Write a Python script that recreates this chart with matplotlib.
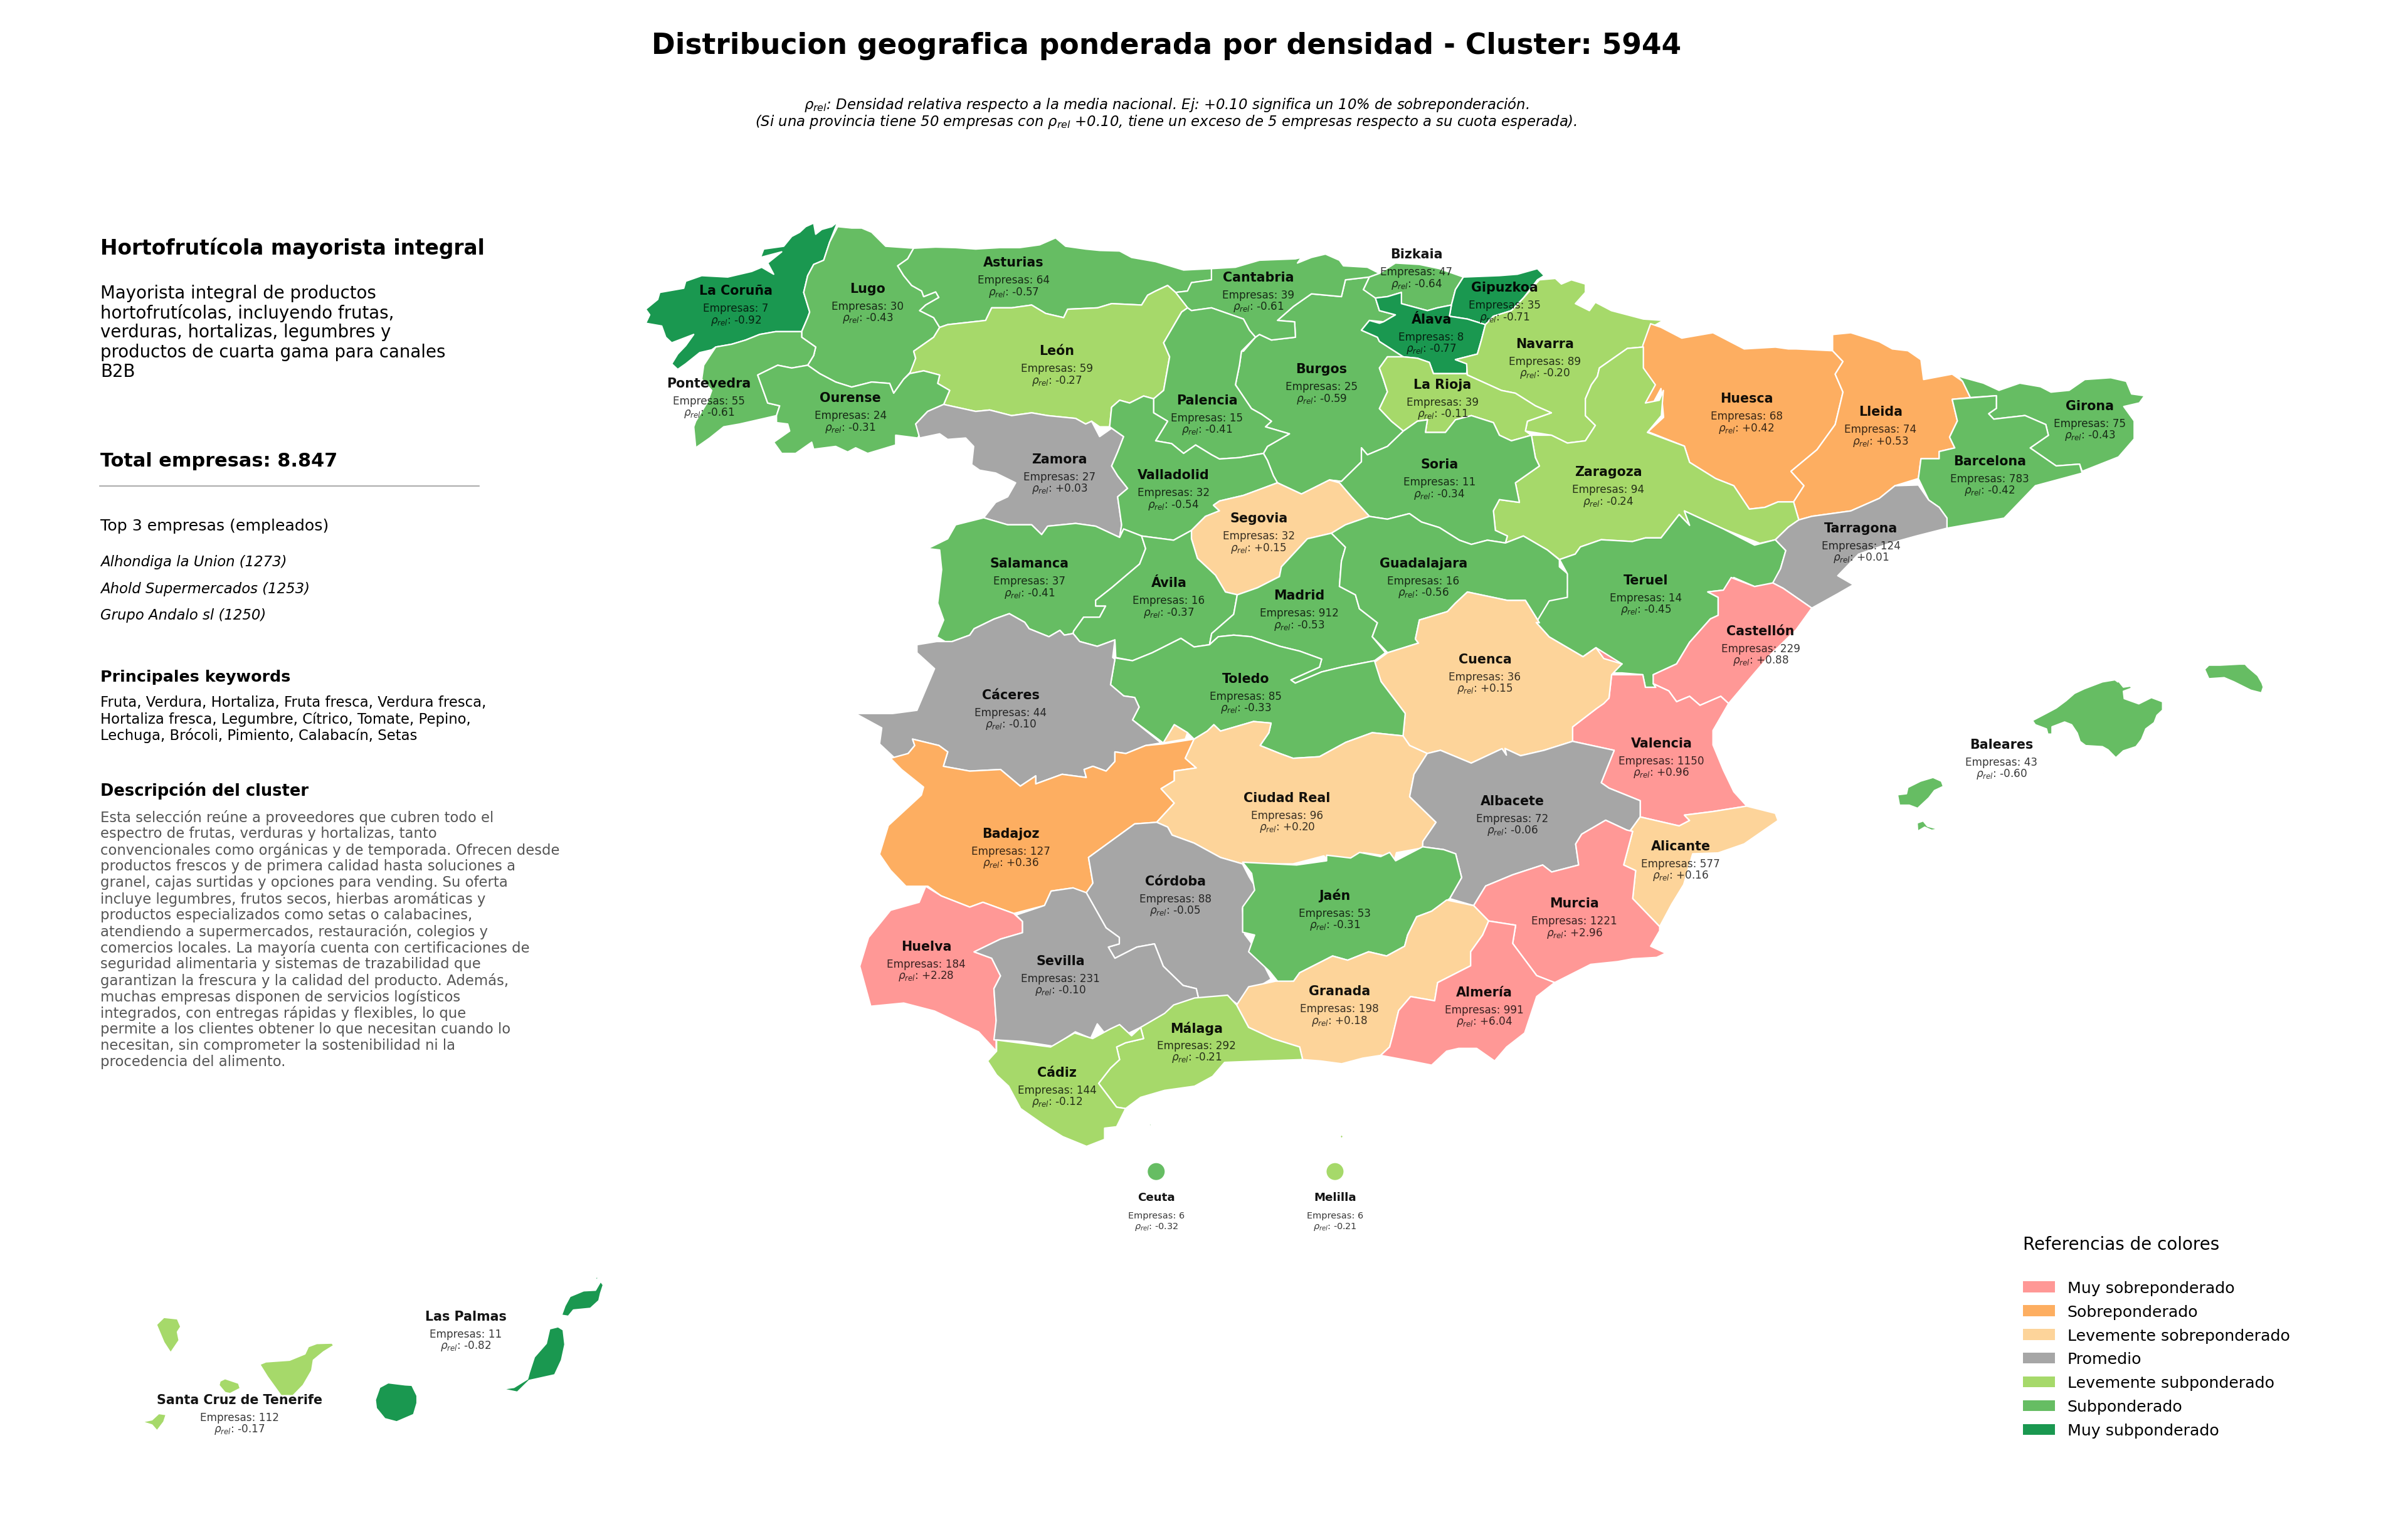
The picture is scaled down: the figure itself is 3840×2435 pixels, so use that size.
import matplotlib
matplotlib.use("Agg")
import matplotlib.pyplot as plt
from matplotlib.patches import Polygon, Patch, Circle

# ---------- outline digitising frames (origin + scale of each traced crop) ----------
def frame(ox, oy, fx, fy):
    return lambda pts: [(ox + x / fx, oy + y / fy) for x, y in pts]
A = frame(950, 320, 1.568, 2.24)
B = frame(1900, 320, 1.568, 2.24)
C = frame(2400, 500, 1.206, 1.742)
D = frame(1350, 950, 1.4255, 1.96)
E = frame(1350, 1300, 1.045, 2.24)
F = frame(180, 2000, 1.845, 3.0)
G = frame(3000, 1000, 2.24, 3.0)

# ---------- data ----------
PROVINCIAS = ["La Coruña", "Lugo", "Asturias", "Cantabria", "Bizkaia", "Gipuzkoa", "Álava", "Navarra", "León",
              "Pontevedra", "Ourense", "Zamora", "Palencia", "Burgos", "La Rioja", "Huesca", "Lleida", "Girona",
              "Barcelona", "Zaragoza", "Soria", "Valladolid", "Segovia", "Salamanca", "Ávila", "Madrid",
              "Guadalajara", "Teruel", "Tarragona", "Castellón", "Valencia", "Baleares", "Cuenca", "Toledo",
              "Cáceres", "Badajoz", "Ciudad Real", "Albacete", "Alicante", "Murcia", "Córdoba", "Jaén", "Huelva",
              "Sevilla", "Granada", "Almería", "Málaga", "Cádiz", "Ceuta", "Melilla", "Las Palmas",
              "Santa Cruz de Tenerife"]
EMPRESAS = [7, 30, 64, 39, 47, 35, 8, 89, 59, 55, 24, 27, 15, 25, 39, 68, 74, 75, 783, 94, 11, 32, 32, 37, 16, 912,
            16, 14, 124, 229, 1150, 43, 36, 85, 44, 127, 96, 72, 577, 1221, 88, 53, 184, 231, 198, 991, 292, 144,
            6, 6, 11, 112]
RHO = [-0.92, -0.43, -0.57, -0.61, -0.64, -0.71, -0.77, -0.20, -0.27, -0.61, -0.31, 0.03, -0.41, -0.59, -0.11, 0.42,
       0.53, -0.43, -0.42, -0.24, -0.34, -0.54, 0.15, -0.41, -0.37, -0.53, -0.56, -0.45, 0.01, 0.88, 0.96, -0.60,
       0.15, -0.33, -0.10, 0.36, 0.20, -0.06, 0.16, 2.96, -0.05, -0.31, 2.28, -0.10, 0.18, 6.04, -0.21, -0.12,
       -0.32, -0.21, -0.82, -0.17]

CLASES = ["Muy sobreponderado", "Sobreponderado", "Levemente sobreponderado", "Promedio",
          "Levemente subponderado", "Subponderado", "Muy subponderado"]
COLORES = ["#FF9896", "#FDAE61", "#FDD49A", "#A6A6A6", "#A6D96A", "#66BD63", "#1A9850"]

TITULO = "Distribucion geografica ponderada por densidad - Cluster: 5944"
SUB1 = r"$\rho_{rel}$: Densidad relativa respecto a la media nacional. Ej: +0.10 significa un 10% de sobreponderación."
SUB2 = r"(Si una provincia tiene 50 empresas con $\rho_{rel}$ +0.10, tiene un exceso de 5 empresas respecto a su cuota esperada)."
CLUSTER = "Hortofrutícola mayorista integral"
RESUMEN = ["Mayorista integral de productos", "hortofrutícolas, incluyendo frutas,", "verduras, hortalizas, legumbres y",
           "productos de cuarta gama para canales", "B2B"]
TOTAL = "Total empresas: 8.847"
TOP3 = ["Alhondiga la Union (1273)", "Ahold Supermercados (1253)", "Grupo Andalo sl (1250)"]
KEYWORDS = ["Fruta, Verdura, Hortaliza, Fruta fresca, Verdura fresca,",
            "Hortaliza fresca, Legumbre, Cítrico, Tomate, Pepino,",
            "Lechuga, Brócoli, Pimiento, Calabacín, Setas"]
DESCRIPCION = ["Esta selección reúne a proveedores que cubren todo el",
               "espectro de frutas, verduras y hortalizas, tanto",
               "convencionales como orgánicas y de temporada. Ofrecen desde",
               "productos frescos y de primera calidad hasta soluciones a",
               "granel, cajas surtidas y opciones para vending. Su oferta",
               "incluye legumbres, frutos secos, hierbas aromáticas y",
               "productos especializados como setas o calabacines,",
               "atendiendo a supermercados, restauración, colegios y",
               "comercios locales. La mayoría cuenta con certificaciones de",
               "seguridad alimentaria y sistemas de trazabilidad que",
               "garantizan la frescura y la calidad del producto. Además,",
               "muchas empresas disponen de servicios logísticos",
               "integrados, con entregas rápidas y flexibles, lo que",
               "permite a los clientes obtener lo que necesitan cuando lo",
               "necesitan, sin comprometer la sostenibilidad ni la",
               "procedencia del alimento."]

SHAPES = {
"La Coruña": [A([(605,78),(590,95),(565,105),(550,122),(545,82),(525,95),(510,115),(490,130),(470,165),(420,175),(412,205),(465,185),(430,225),(445,265),(415,240),(390,255),(330,275),(265,270),(225,290),(220,315),(160,330),(155,355),(125,390),(135,410),(125,440),(165,450),(175,490),(190,510),(245,480),(225,520),(205,550),(190,585),(205,605),(225,585),(260,545),(290,535),(300,525),(340,515),(375,500),(410,480),(450,470),(515,470),(530,420),(535,400),(520,330),(530,270),(545,230),(570,215),(585,150)])],
"Lugo": [A([(605,95),(640,100),(665,100),(690,115),(725,165),(795,172),(780,210),(755,235),(770,270),(790,305),(815,325),(820,345),(850,328),(858,348),(825,375),(810,395),(845,420),(860,455),(845,490),(820,515),(795,540),(800,565),(790,610),(770,640),(745,690),(735,655),(690,650),(640,668),(600,650),(560,620),(530,590),(545,555),(550,525),(515,490),(515,470),(530,420),(535,400),(520,330),(530,270),(545,230),(570,215),(585,150)])],
"Asturias": [A([(795,172),(850,168),(900,170),(950,175),(1010,170),(1060,170),(1110,160),(1150,135),(1175,165),(1225,175),(1260,180),(1310,182),(1340,205),(1400,220),(1470,250),(1540,245),(1540,285),(1490,295),(1480,325),(1450,330),(1430,305),(1400,325),(1380,340),(1365,375),(1290,370),(1255,385),(1180,390),(1170,420),(1125,405),(1090,375),(1040,385),(990,385),(975,430),(880,445),(860,455),(845,420),(810,395),(825,375),(858,348),(850,328),(820,345),(815,325),(790,305),(770,270),(755,235),(780,210)])],
"Cantabria": [B([(50,245),(110,240),(170,215),(260,210),(275,205),(265,225),(300,205),(335,193),(370,215),(380,235),(440,240),(470,262),(445,275),(385,285),(375,345),(300,335),(255,380),(215,430),(258,435),(260,490),(200,500),(170,480),(160,490),(145,465),(130,425),(90,405),(50,385),(0,395),(-10,385),(-40,330),(-10,325),(0,295),(50,285)])],
"Bizkaia": [B([(445,275),(470,262),(510,225),(570,230),(620,245),(680,275),(660,320),(650,375),(615,385),(590,395),(525,370),(525,330),(490,345),(460,350),(430,320)])],
"Gipuzkoa": [B([(680,275),(770,270),(815,265),(865,245),(882,270),(865,285),(830,350),(800,395),(755,415),(735,445),(690,425),(645,415),(650,375),(660,320)])],
"Navarra": [B([(870,285),(910,280),(925,300),(950,285),(985,300),(985,330),(960,370),(995,395),(1010,365),(1050,395),(1130,425),(1180,430),(1155,450),(1145,510),(1130,525),(1090,530),(1055,565),(1020,600),(1015,630),(1000,660),(985,710),(985,770),(1010,805),(985,860),(940,868),(900,840),(835,825),(840,790),(900,760),(860,735),(810,690),(775,680),(690,625),(688,585),(660,570),(715,550),(725,500),(735,445),(755,415),(800,395),(830,350)])],
"León": [A([(1430,305),(1450,330),(1480,385),(1465,400),(1420,510),(1435,560),(1420,680),(1395,710),(1370,700),(1335,725),(1310,715),(1290,740),(1285,810),(1260,810),(1240,790),(1225,800),(1200,780),(1130,770),(1090,760),(1040,770),(985,750),(950,755),(870,730),(885,680),(855,655),(860,625),(820,610),(785,620),(800,565),(795,540),(820,515),(845,490),(860,455),(880,445),(975,430),(990,385),(1040,385),(1090,375),(1125,405),(1170,420),(1180,390),(1255,385),(1290,370),(1365,375),(1380,340),(1400,325)])],
"Pontevedra": [A([(515,470),(450,470),(410,480),(375,500),(340,515),(300,525),(270,590),(265,640),(290,680),(280,720),(250,790),(245,810),(250,885),(285,850),(320,810),(360,800),(452,770),(460,735),(430,725),(405,625),(455,590),(490,600),(530,590),(545,555),(550,525),(515,490)])],
"Ourense": [A([(405,625),(455,590),(490,600),(530,590),(560,620),(600,650),(640,668),(690,650),(735,655),(745,690),(770,640),(785,620),(820,610),(860,625),(855,655),(885,680),(870,730),(830,755),(800,800),(815,825),(805,850),(750,840),(750,875),(680,905),(650,885),(630,900),(600,880),(545,890),(540,865),(500,905),(465,905),(445,865),(485,825),(480,800),(452,795),(452,770),(460,735),(430,725)])],
"Zamora": [A([(870,730),(950,755),(985,750),(1040,770),(1090,760),(1130,770),(1200,780),(1225,800),(1240,790),(1260,845),(1290,815),(1320,845),(1305,900),(1290,950),(1305,985),(1330,1030),(1305,1060),(1315,1160),(1310,1205),(1250,1165),(1200,1155),(1130,1165),(1115,1195),(1090,1160),(1030,1160),(970,1135),(1000,1080),(1030,1060),(1050,1010),(1000,975),(960,965),(940,945),(945,880),(925,850),(880,855),(860,835),(810,850),(800,800),(830,755)])],
"Palencia": [A([(1480,385),(1465,400),(1420,510),(1435,560),(1420,680),(1395,710),(1395,760),(1430,790),(1400,860),(1440,870),(1470,905),(1500,875),(1540,910)]) + B([(70,925),(120,920),(180,905),(190,880),(245,835),(185,810),(200,790),(175,765),(150,745),(110,660),(120,590),(125,540),(160,490),(145,465),(130,425),(90,405),(50,385),(0,395)])],
"Burgos": [B([(130,540),(160,490),(170,480),(200,500),(260,490),(258,435),(215,430),(255,380),(300,335),(375,345),(385,285),(445,275),(430,320),(470,340),(460,350),(470,395),(510,410),(480,435),(445,430),(425,465),(465,490),(470,505),(530,560),(490,560),(470,600),(480,640),(490,685),(470,745),(500,790),(530,825),(490,880),(440,910),(425,885),(425,935),(375,1005),(345,1000),(275,1050),(215,1010),(205,985),(190,930),(180,905),(190,880),(245,835),(185,810),(200,790),(175,765),(150,745),(110,660),(120,590),(125,540)])],
"Álava": [B([(460,350),(490,345),(525,330),(525,370),(590,395),(615,385),(650,375),(645,415),(690,425),(735,445),(725,500),(715,550),(660,570),(690,585),(688,620),(605,620),(595,580),(565,565),(530,560),(470,505),(465,490),(425,465),(445,430),(470,440),(480,435),(510,410),(470,395)])],
"La Rioja": [B([(490,560),(530,560),(565,565),(595,580),(605,620),(688,620),(690,625),(775,680),(810,690),(860,735),(900,760),(840,790),(835,825),(850,840),(800,860),(770,840),(755,795),(700,770),(660,785),(635,830),(585,830),(590,785),(565,790),(530,825),(500,790),(470,745),(490,685),(480,640),(470,600)])],
"Huesca": [C([(280,30),(300,40),(340,70),(400,55),(460,100),(520,95),(545,100),(560,100),(630,105),(650,135),(635,170),(650,220),(635,310),(600,380),(550,440),(575,480),(555,525),(525,525),(500,540),(470,545),(440,480),(405,460),(355,415),(345,370),(275,330),(305,290),(300,210),(285,250),(265,250),(285,205),(265,150),(265,90)])],
"Lleida": [C([(630,60),(665,55),(720,80),(745,100),(775,105),(800,130),(805,185),(860,170),(880,190),(895,235),(860,240),(870,300),(855,345),(865,375),(835,385),(835,405),(800,405),(795,460),(750,480),(720,515),(665,550),(590,565),(565,575),(555,525),(575,480),(550,440),(600,380),(635,310),(650,220),(635,170),(650,135),(630,105)])],
"Girona": [C([(870,175),(920,195),(950,215),(990,195),(1030,205),(1050,220),(1085,215),(1115,185),(1165,180),(1195,190),(1205,225),(1230,230),(1220,250),(1190,260),(1210,300),(1210,350),(1180,400),(1110,440),(1105,420),(1060,425),(1040,405),(1010,375),(1045,340),(1040,310),(1000,285),(940,295),(930,280),(945,265),(945,230),(895,235),(880,190)])],
"Barcelona": [C([(860,240),(945,230),(945,265),(930,280),(940,295),(1000,285),(1040,310),(1045,340),(1010,375),(1040,405),(1060,425),(1105,420),(1110,445),(1020,480),(960,570),(850,598),(850,570),(835,540),(815,520),(795,460),(800,405),(835,405),(835,385),(865,375),(855,345),(870,300)])],
"Zaragoza": [B([(850,840),(900,840),(940,868),(985,860),(1010,805),(985,770),(985,710),(1000,660),(1015,630),(1020,600),(1055,565),(1090,530),(1130,525),(1130,600),(1160,660),(1135,725),(1170,715),(1180,680),(1175,770),(1140,830)]) + C([(345,370),(355,415),(405,460),(440,480),(470,545),(500,540),(525,525),(555,525),(565,575),(545,595),(520,630),(490,640),(420,600),(345,550),(355,590),(335,560),(300,625),(270,625),(245,635),(185,630),(145,650),(135,670),(105,685)]) + B([(890,1250),(830,1200),(785,1225),(790,1200),(760,1180),(755,1110),(770,1070),(820,1080),(810,1010),(870,950),(860,920)])],
"Soria": [B([(530,825),(565,790),(590,785),(585,830),(635,830),(660,785),(700,770),(755,795),(770,840),(800,860),(850,840),(860,920),(870,950),(810,1010),(820,1080),(770,1070),(755,1110),(760,1180),(790,1200),(785,1225),(740,1215),(700,1230),(670,1215),(620,1170),(575,1150),(545,1120),(490,1140),(445,1130),(400,1060),(370,1010),(345,1000),(375,1005),(425,935),(425,885),(440,910),(490,880)])],
"Valladolid": [A([(1290,815),(1285,810),(1290,740),(1310,715),(1335,725),(1370,700),(1395,710),(1395,760),(1430,790),(1400,860),(1440,870),(1470,905),(1500,875),(1540,910)]) + B([(70,925),(120,920),(180,905),(190,930),(205,985),(215,1010),(130,1055),(70,1075),(55,1090),(70,1110),(35,1130),(0,1180)]) + A([(1445,1215),(1365,1200),(1320,1175),(1310,1205),(1315,1160),(1305,1060),(1330,1030),(1305,985),(1290,950),(1305,900),(1320,845)])],
"Segovia": [B([(215,1010),(275,1050),(345,1000),(370,1010),(400,1060),(445,1130),(385,1160),(350,1190),(290,1210),(225,1310),(220,1345),(165,1385),(115,1410),(85,1400),(60,1340),(15,1280),(0,1210),(0,1180),(35,1130),(70,1110),(55,1090),(70,1075),(130,1055)])],
"Salamanca": [A([(970,1135),(1030,1160),(1090,1160),(1115,1195),(1130,1165),(1200,1155),(1250,1165),(1310,1205),(1320,1175),(1365,1200),(1375,1245),(1360,1300),(1290,1385),(1250,1430),(1250,1450),(1275,1450),(1260,1490),(1220,1490),(1195,1540)]) + D([(515,120),(495,125),(485,110),(460,130),(415,105),(405,85),(370,58),(335,75),(290,105),(280,125),(230,150),(205,130)]) + A([(870,1500),(855,1440),(865,1320),(860,1250),(830,1245),(880,1210),(900,1160)])],
"Ávila": [A([(1445,1215),(1365,1200),(1375,1245),(1360,1300),(1290,1385),(1250,1430),(1250,1450),(1275,1450),(1260,1490),(1220,1490),(1195,1540)]) + D([(515,120),(530,145),(570,160),(610,140),(612,195),(650,205),(695,180),(760,135),(790,162),(825,155),(830,120),(880,60),(888,0)]) + B([(115,1410),(85,1400),(60,1340),(15,1280),(0,1210),(0,1180)])],
"Guadalajara": [B([(350,1190),(385,1160),(445,1130),(490,1140),(545,1120),(575,1150),(620,1170),(670,1215),(700,1230),(740,1215),(785,1225),(830,1200),(890,1250),(920,1285),(920,1310),(945,1340),(940,1400),(945,1470),(870,1510),(835,1430),(790,1430),(690,1400),(660,1440),(640,1470),(570,1500),(560,1568)]) + D([(1300,150),(1230,180),(1195,130)]) + B([(465,1510),(420,1460),(410,1410),(370,1380),(375,1290),(385,1240)])],
"Toledo": [D([(605,195),(650,205),(695,180),(760,135),(790,162),(825,155),(845,130),(880,125),(920,130),(985,160),(1030,175),(1080,200),(1075,225),(1010,265),(1020,275),(1080,240),(1125,225),(1200,205),(1215,270),(1270,370),(1265,440),(1195,430),(1135,460),(1075,505),(1015,510),(985,495),(940,470),(960,430),(965,400),(925,395),(850,425),(835,405),(820,425),(790,450),(775,430),(745,405),(720,462),(650,390),(665,350),(655,320),(630,315),(600,280),(610,200)])],
"Madrid": [B([(115,1410),(165,1385),(220,1345),(225,1310),(290,1210),(350,1190),(385,1240),(375,1290),(370,1380),(410,1410),(420,1460),(465,1510)]) + D([(1195,130),(1225,180),(1200,205),(1125,225),(1080,240),(1020,275),(1010,265),(1075,225),(1080,200),(1030,175),(985,160),(920,130),(880,125),(845,130),(825,155),(830,120),(880,60),(888,0)])],
"Teruel": [C([(105,685),(135,670),(145,650),(185,630),(245,635),(270,625),(300,625),(335,560),(355,590),(345,550),(420,600),(480,645),(520,630),(540,660),(530,710),(530,750),(480,760),(440,735),(420,770),(390,775),(410,790),(410,840),(395,850),(355,915),(330,975),(285,1005),(290,1040),(270,1040),(265,1005),(225,1000),(205,1000),(225,975),(190,960),(175,930),(150,955),(85,900),(60,860),(85,800),(120,790),(120,725)])],
"Tarragona": [C([(795,478),(815,520),(835,540),(850,570),(850,598),(790,620),(740,640),(680,670),(640,730),(670,755),(640,780),(590,820),(580,810),(535,765),(515,750),(530,710),(540,660),(520,630),(545,595),(565,575),(590,565),(665,550),(720,515),(750,480)])],
"Castellón": [C([(590,820),(560,880),(510,950),(480,1000),(430,1085),(415,1065),(375,1090),(355,1065),(330,1080),(315,1050),(285,1030),(285,1005),(330,975),(355,915),(395,850),(410,840),(410,790),(390,775),(420,770),(435,735),(480,760),(515,750),(535,765),(580,810)])],
"Cuenca": [B([(870,1510),(835,1430),(790,1430),(690,1400),(660,1440),(640,1470),(570,1500),(560,1568)]) + D([(1300,150),(1230,180),(1200,210),(1215,270),(1270,370),(1265,440),(1280,470),(1320,495),(1350,485),(1420,525),(1490,480),(1500,500)]) + C([(0,1210),(30,1230),(75,1215),(130,1190),(130,1150),(175,1100),(190,1085),(200,1070),(205,1005),(225,975),(190,960),(175,930),(150,955),(85,900),(60,860)])],
"Valencia": [C([(430,1085),(400,1160),(400,1200),(420,1270),(440,1330),(465,1370),(400,1385),(345,1395),(355,1410),(335,1425),(260,1400),(260,1355),(200,1320),(185,1305),(210,1215),(130,1190),(130,1150),(175,1100),(200,1070),(205,1005),(265,1005),(270,1040),(290,1040),(285,1030),(315,1050),(330,1080),(355,1065),(375,1090),(415,1065)]),
             C([(150,955),(175,930),(225,975),(190,995)])],
"Baleares": [G([(540,450),(590,415),(625,390),(660,355),(690,320),(725,298),(790,265),(835,255),(845,265),(880,240),(850,265),(865,290),(890,285),(895,295),(865,310),(868,345),(920,370),(965,340),(1005,360),(1005,400),(985,425),(975,460),(945,490),(930,540),(910,575),(865,595),(838,628),(810,590),(790,575),(730,570),(710,550),(700,510),(680,470),(655,457),(610,480),(610,515),(595,515),(590,490),(550,470)]),
             G([(1155,205),(1170,185),(1210,185),(1280,180),(1300,180),(1310,195),(1345,235),(1360,270),(1365,290),(1358,318),(1320,305),(1260,265),(1225,245),(1170,250)]),
             G([(58,805),(90,800),(95,770),(140,740),(185,722),(215,740),(222,765),(190,785),(170,820),(130,870),(100,855),(65,855)]),
             G([(128,940),(150,930),(165,955),(205,970),(180,975),(155,960),(130,980)]),
             G([(783,703),(793,702),(790,708)])],
"Cáceres": [D([(160,155),(205,145),(240,145),(280,125),(290,105),(335,75),(370,58),(405,85),(415,105),(460,130),(485,110),(495,125),(515,120),(530,145),(570,160),(610,140),(605,195),(610,200),(600,280),(630,315),(655,320),(665,350),(650,390),(715,462),(680,470),(635,495),(610,490),(610,520),(590,550),(560,535),(540,545),(545,570),(490,560),(430,590),(430,565),(395,597),(350,545),(280,550),(220,535),(230,490),(210,470),(150,450),(155,470),(140,495),(110,510),(75,465),(80,415),(20,370),(105,370),(160,360),(200,230),(160,180)])],
"Badajoz": [D([(150,450),(210,470),(230,490),(220,535),(280,550),(350,545),(395,597),(430,565),(430,590),(490,560),(545,570),(540,545),(560,535),(590,550),(610,520),(610,490),(635,495),(680,470),(720,465),(790,450),(770,510),(795,540),(745,550),(745,580),(715,605),(745,650),(705,710),(655,715),(600,770),(550,820),(560,900),(555,930),(510,950),(515,915),(465,925),(450,970),(380,995),(310,960),(280,975),(215,940),(185,910),(135,910),(100,860),(75,810),(95,720),(170,625),(175,600),(125,545),(100,510),(140,495),(155,470)])],
"Ciudad Real": [D([(790,450),(820,425),(835,405),(850,425),(925,395),(965,400),(960,430),(940,470),(985,495),(1015,510),(1075,505),(1135,460),(1195,430),(1265,440),(1280,470),(1320,495),(1290,560),(1280,630),(1340,710),(1310,770),(1310,790),(1250,805),(1245,830),(1225,815),(1175,805),(1140,830),(1095,830),(1085,815),(1015,840),(900,840),(850,820),(790,775),(740,750),(730,725),(705,710),(745,650),(715,605),(745,580),(745,550),(795,540),(770,510)]),
                D([(720,462),(745,405),(775,430),(770,450)])],
"Albacete": [D([(1320,495),(1350,485),(1420,525),(1490,480),(1500,500)]) + C([(0,1210),(30,1230),(75,1215),(130,1190),(210,1215),(185,1305),(200,1320),(260,1355),(260,1400),(240,1440)]) + E([(1300,55),(1265,20),(1225,70),(1215,105),(1220,180),(1175,205),(1160,180),(1110,215),(1065,255),(1045,325),(1005,300),(1025,225),(1015,140),(995,125),(960,115)]) + D([(1310,770),(1340,710),(1280,630),(1290,560)])],
"Alicante": [C([(240,1440),(260,1400),(335,1425),(355,1410),(345,1395),(400,1385),(465,1370),(520,1390),(525,1410),(460,1475),(410,1500)]) + E([(1410,140),(1395,250),(1375,320),(1355,400),(1310,300),(1315,200),(1295,180),(1310,60)])],
"Murcia": [E([(1300,55),(1310,60),(1295,180),(1315,200),(1310,300),(1355,400),(1355,415),(1340,470),(1365,495),(1350,510),(1310,515),(1285,525),(1240,535),(1180,600),(1150,575),(1110,460),(1115,395),(1070,380),(1045,325),(1065,255),(1110,215),(1160,180),(1175,205),(1220,180),(1215,105),(1225,70),(1265,20)])],
"Córdoba": [D([(705,710),(730,725),(740,750),(790,775),(850,820),(900,840),(915,880),(935,925),(900,980),(905,1060),(930,1105),(965,1200),(935,1225),(905,1250),(890,1280),(865,1255),(820,1275),(800,1260),(795,1230),(765,1220),(720,1160),(700,1090),(660,1100),(610,1135),(595,1100),(620,1090),(620,1070),(590,1040),(545,930),(560,900),(550,820),(600,770),(655,715)])],
"Jaén": [E([(660,170),(750,180),(800,165),(800,145),(840,155),(855,135),(890,150),(905,135),(915,165),(960,115),(995,125),(1015,140),(1025,225),(1005,300),(975,345),(950,365),(935,430),(930,470),(900,505),(870,490),(835,520),(810,505),(755,565),(745,595),(720,600),(705,560),(670,490),(680,430),(660,420),(660,330),(680,270),(675,210)])],
"Huelva": [D([(180,910),(215,940),(280,975),(310,960),(380,995),(400,1020),(400,1055),(350,1075),(290,1115),(330,1135),(350,1190),(335,1230),(340,1330),(340,1425),(300,1365),(200,1300),(130,1275),(55,1285),(30,1160),(50,1070),(100,985),(165,960)])],
"Sevilla": [D([(385,1000),(450,970),(465,925),(515,915),(545,930),(590,1040),(620,1070),(620,1090),(595,1100),(610,1135),(660,1100),(700,1090),(720,1160),(765,1220),(795,1230),(800,1260),(780,1275),(740,1300),(670,1350),(640,1370),(620,1345),(590,1375),(570,1340),(555,1385),(520,1365),(470,1410),(400,1395),(335,1390),(340,1330),(335,1230),(350,1190),(330,1135),(290,1115),(350,1075),(400,1055),(400,1020)])],
"Granada": [E([(1000,305),(1045,325),(1070,380),(1060,430),(1040,490),(1040,540),(985,600),(980,665),(940,650),(920,700),(910,790),(905,830),(890,860),(860,870),(825,890),(790,880),(760,875),(755,830),(710,800),(670,760),(650,680),(670,615),(715,595),(745,595),(755,565),(810,505),(835,520),(870,490),(900,505),(930,470),(935,430),(950,365),(975,345)])],
"Almería": [E([(1070,380),(1115,395),(1110,460),(1150,575),(1180,600),(1150,650),(1130,780),(1100,830),(1080,880),(1050,835),(1020,835),(1000,845),(975,895),(940,880),(890,860),(905,830),(910,790),(920,700),(940,650),(980,665),(985,600),(1040,540),(1040,490),(1060,430)])],
"Málaga": [E([(580,655),(635,645),(650,680),(670,760),(710,800),(755,830),(760,875),(720,878),(690,880),(630,885),(610,935),(580,970),(530,985),(490,1010),(465,1050),(450,1045),(420,960),(440,905),(455,875),(450,830),(465,815),(495,800),(490,760),(530,710),(545,680)])],
"Cádiz": [E([(250,805),(340,830),(380,780),(410,800),(440,765),(455,750),(475,790),(490,760),(495,800),(465,815),(450,830),(455,875),(440,905),(420,960),(450,1045),(465,1050),(450,1115),(430,1120),(430,1160),(400,1185),(360,1150),(330,1110),(290,1050),(270,970),(250,930),(235,880),(250,845)])],
"Ceuta": [E([(502,1102),(510,1108),(506,1113)])],
"Melilla": [E([(825,1142),(828,1150),(825,1158),(822,1150)])],
"Las Palmas": [F([(772,700),(785,640),(810,618),(860,628),(880,630),(895,680),(895,715),(885,770),(835,805),(800,790),(775,740)]),
               F([(1145,648),(1180,640),(1220,600),(1225,570),(1240,495),(1275,430),(1285,360),(1310,350),(1325,365),(1330,435),(1320,510),(1300,580),(1225,607),(1190,663)]),
               F([(1320,295),(1340,300),(1355,270),(1405,262),(1430,225),(1435,190),(1443,150),(1435,133),(1420,175),(1385,178),(1345,205),(1330,250)]),
               F([(1415,128),(1425,108),(1428,120)])],
"Santa Cruz de Tenerife": [F([(128,340),(150,305),(190,312),(200,350),(190,375),(195,415),(170,475),(150,425)]),
                           F([(432,530),(450,518),(520,510),(565,480),(575,445),(600,430),(645,428),(650,440),(620,470),(590,510),(585,560),(560,630),(530,680),(495,680),(455,590)]),
                           F([(315,610),(330,598),(370,620),(375,645),(345,670),(330,665),(312,630)]),
                           F([(85,805),(115,795),(135,765),(157,770),(150,805),(130,848),(115,820)])],
}
# pixel-space centres of the two autonomous-city dots
CIUDADES = {"Ceuta": E([(516,1275)])[0], "Melilla": E([(814,1275)])[0]}

LABELS = {
"La Coruña": A([(350,323)])[0], "Lugo": A([(680,315)])[0], "Asturias": A([(1045,222)])[0], "León": A([(1153,538)])[0],
"Pontevedra": A([(283,653)])[0], "Ourense": A([(637,706)])[0], "Zamora": A([(1160,925)])[0],
"Salamanca": A([(1085,1298)])[0], "Ávila": A([(1433,1367)])[0], "Valladolid": A([(1445,982)])[0],
"Palencia": (1925, 639), "Cantabria": B([(167,275)])[0], "Bizkaia": B([(563,193)])[0], "Gipuzkoa": B([(783,312)])[0],
"Álava": B([(600,425)])[0], "Navarra": B([(884,512)])[0], "Burgos": B([(325,603)])[0], "La Rioja": B([(628,658)])[0],
"Soria": B([(620,944)])[0], "Zaragoza": B([(1042,971)])[0], "Huesca": B([(1388,708)])[0], "Segovia": B([(168,1136)])[0],
"Guadalajara": B([(580,1296)])[0], "Madrid": B([(270,1412)])[0], "Teruel": B([(1136,1357)])[0],
"Castellón": B([(1423,1538)])[0], "Lleida": C([(722,274)])[0], "Girona": C([(1125,257)])[0],
"Barcelona": C([(932,411)])[0], "Tarragona": C([(685,597)])[0], "Valencia": C([(301,1195)])[0],
"Baleares": C([(955,1198)])[0], "Alicante": C([(338,1480)])[0], "Cáceres": D([(373,311)])[0], "Toledo": D([(908,260)])[0],
"Cuenca": D([(1451,199)])[0], "Ciudad Real": D([(1001,633)])[0], "Badajoz": D([(373,744)])[0],
"Córdoba": D([(747,893)])[0], "Jaén": D([(1110,938)])[0], "Huelva": D([(181,1097)])[0], "Sevilla": D([(486,1142)])[0],
"Granada": D([(1120,1237)])[0], "Almería": D([(1450,1240)])[0], "Málaga": D([(796,1352)])[0], "Cádiz": E([(351,920)])[0],
"Murcia": E([(1213,316)])[0], "Albacete": (2412, 1278), "Ceuta": E([(516,1366)])[0], "Melilla": E([(814,1366)])[0],
"Las Palmas": F([(1038,300)])[0], "Santa Cruz de Tenerife": F([(372,698)])[0],
}

def clase(r):
    if r > 0.70: return 0
    if r > 0.30: return 1
    if r > 0.10: return 2
    if r >= -0.10: return 3
    if r >= -0.30: return 4
    if r >= -0.70: return 5
    return 6

# ---------- figure ----------
fig = plt.figure(figsize=(12.8, 8.12), dpi=300)
ax = fig.add_axes([0, 0, 1, 1])
ax.set_xlim(0, 3840)
ax.set_ylim(2436, 0)
ax.axis("off")

ORDEN = ["Burgos"] + [p for p in PROVINCIAS if p != "Burgos"]
for prov in ORDEN:
    col = COLORES[clase(RHO[PROVINCIAS.index(prov)])]
    for part in SHAPES[prov]:
        ax.add_patch(Polygon(part, closed=True, facecolor=col, edgecolor="white", linewidth=0.55, joinstyle="round"))
for prov, c in CIUDADES.items():
    col = COLORES[clase(RHO[PROVINCIAS.index(prov)])]
    ax.add_patch(Circle(c, 13.5, facecolor=col, edgecolor="none"))

FS_NAME, FS_SUB = 4.95, 4.05
for prov, emp, r in zip(PROVINCIAS, EMPRESAS, RHO):
    x, y = LABELS[prov]
    small = prov in CIUDADES
    kn, ks = (0.89, 0.86) if small else (1.0, 1.0)
    d1, d2 = (29, 47) if small else (28, 47)
    ax.text(x, y, prov, ha="center", va="center", fontsize=FS_NAME * kn, fontweight="bold", color="black", alpha=0.92)
    ax.text(x, y + d1, f"Empresas: {emp}", ha="center", va="center", fontsize=FS_SUB * ks, color="black", alpha=0.78)
    ax.text(x, y + d2, rf"$\rho_{{rel}}$: {r:+.2f}", ha="center", va="center", fontsize=FS_SUB * ks, color="black", alpha=0.78)

# header
ax.text(1860, 74, TITULO, ha="center", va="center", fontsize=10.93, fontweight="bold")
ax.text(1860, 167, SUB1, ha="center", va="center", fontsize=5.48, style="italic")
ax.text(1860, 194, SUB2, ha="center", va="center", fontsize=5.48, style="italic")

# left panel
X0 = 160
ax.text(X0, 396, CLUSTER, va="center", fontsize=7.9, fontweight="bold")
for yy, t in zip([468, 499, 530, 562, 593], RESUMEN):
    ax.text(X0, yy, t, va="center", fontsize=6.65)
ax.text(X0, 736, TOTAL, va="center", fontsize=7.3, fontweight="bold")
ax.plot([159, 764], [776, 776], color="#999999", linewidth=0.4)
ax.text(X0, 839, "Top 3 empresas (empleados)", va="center", fontsize=6.05)
for yy, t in zip([897, 940, 982], TOP3):
    ax.text(X0, yy, t, va="center", fontsize=5.46, style="italic")
ax.text(X0, 1080, "Principales keywords", va="center", fontsize=6.08, fontweight="bold")
for yy, t in zip([1121, 1147, 1173], KEYWORDS):
    ax.text(X0, yy, t, va="center", fontsize=5.47)
ax.text(X0, 1261, "Descripción del cluster", va="center", fontsize=6.2, fontweight="bold")
for i, t in enumerate(DESCRIPCION):
    ax.text(X0, 1304 + i * 26.0, t, va="center", fontsize=5.46, color="#555555")

# legend
handles = [Patch(facecolor=c, edgecolor="none", label=l) for c, l in zip(COLORES, CLASES)]
leg = ax.legend(handles=handles, title="Referencias de colores", frameon=False, fontsize=6.07, title_fontsize=6.67,
                loc="upper left", bbox_to_anchor=(3226, 1971), bbox_transform=ax.transData, borderpad=0,
                borderaxespad=0, labelspacing=0.55, alignment="left")
leg._legend_box.sep = 10.5

fig.savefig("out.png", dpi=300, facecolor="white")
